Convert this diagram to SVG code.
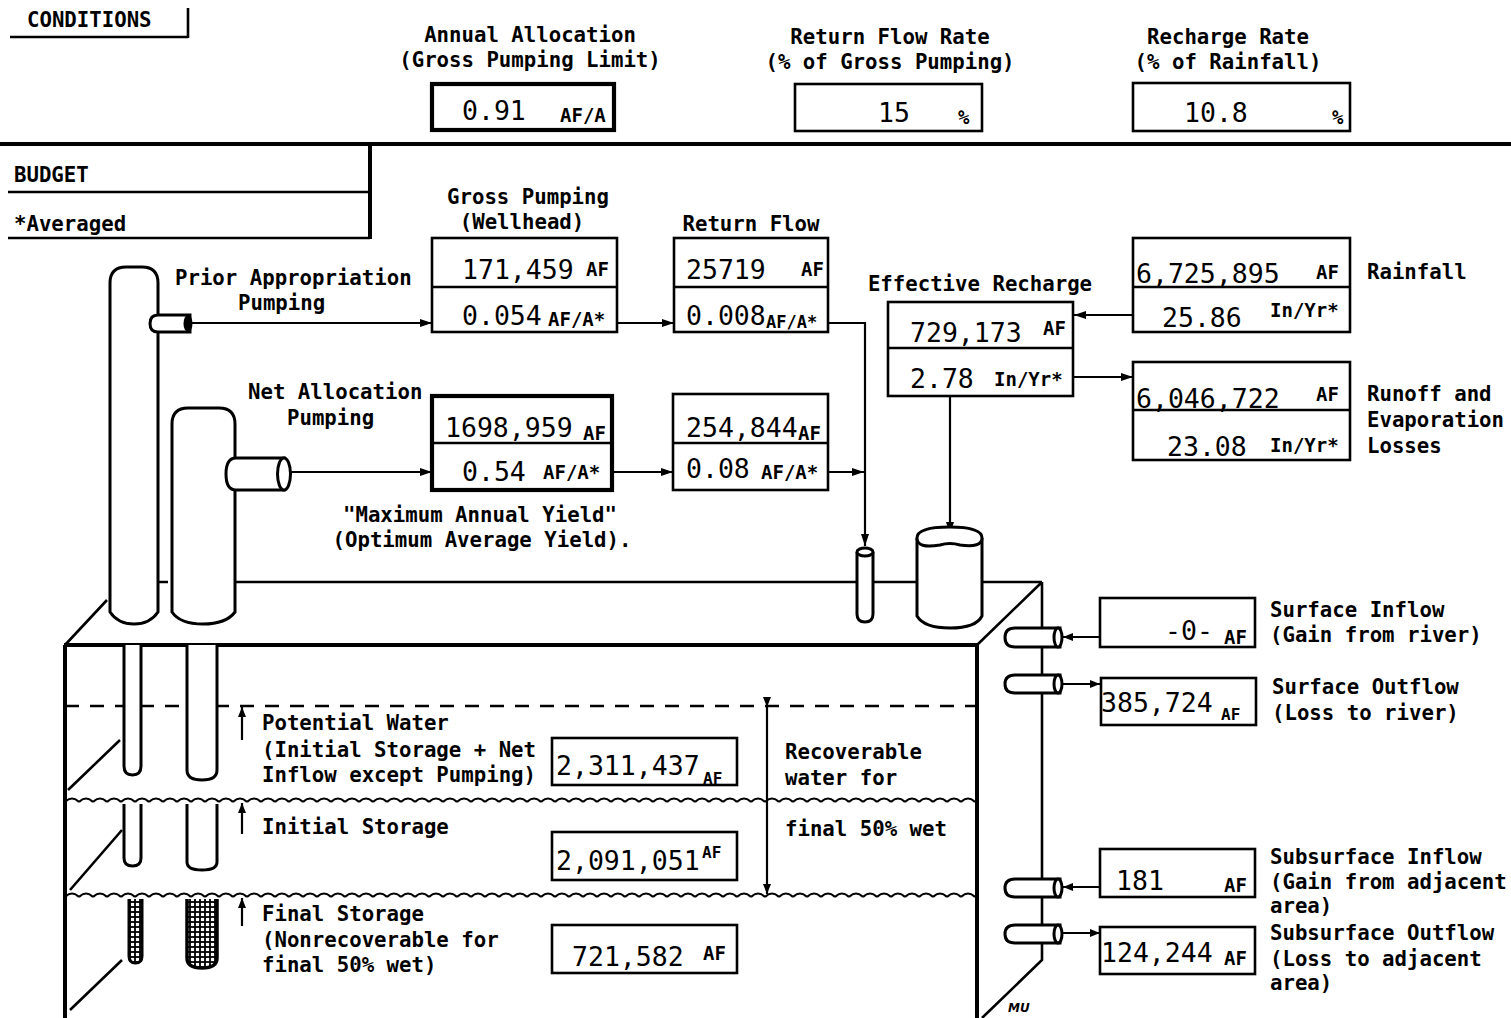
<svg xmlns="http://www.w3.org/2000/svg" width="1511" height="1018" viewBox="0 0 1511 1018">
<style>
.lb{font-family:"DejaVu Sans Mono","Liberation Mono",monospace;font-weight:bold;font-size:20.7px;fill:#000}
.u{font-family:"DejaVu Sans Mono","Liberation Mono",monospace;font-weight:bold;font-size:19px;fill:#000}
.us{font-family:"DejaVu Sans Mono","Liberation Mono",monospace;font-weight:bold;font-size:16px;fill:#000}
.n{font-family:"DejaVu Sans Mono","Liberation Mono",monospace;font-size:26.5px;fill:#000}
.bx{fill:#fff;stroke:#000;stroke-width:2.6}
.bxt{fill:#fff;stroke:#000;stroke-width:4.2}
.ln{fill:none;stroke:#000;stroke-width:2.6}
.th{fill:none;stroke:#000;stroke-width:4}
.w{fill:#fff;stroke:#000;stroke-width:3}
.c{fill:none;stroke:#000;stroke-width:2.2}
</style>
<defs>
<marker id="ah" viewBox="0 0 12 8" refX="12" refY="4" markerWidth="12" markerHeight="8" markerUnits="userSpaceOnUse" orient="auto"><path d="M0,0 L12,4 L0,8 Z" fill="#000"/></marker>
<marker id="as" viewBox="0 0 10 8" refX="10" refY="4" markerWidth="10" markerHeight="8" markerUnits="userSpaceOnUse" orient="auto"><path d="M0,0 L10,4 L0,8 Z" fill="#000"/></marker>
<pattern id="wave" x="65" y="795" width="14" height="10" patternUnits="userSpaceOnUse"><path d="M0,7 Q7,0 14,7" fill="none" stroke="#000" stroke-width="2"/></pattern>
<pattern id="wave2" x="65" y="890" width="14" height="10" patternUnits="userSpaceOnUse"><path d="M0,7 Q7,0 14,7" fill="none" stroke="#000" stroke-width="2"/></pattern>
<pattern id="hatch" x="0" y="897" width="5" height="5" patternUnits="userSpaceOnUse"><rect x="0" y="0" width="5" height="5" fill="#fff" stroke="#000" stroke-width="1.8"/></pattern>
</defs>
<rect x="0" y="0" width="1511" height="1018" fill="#fff"/>

<g id="conditions">
<text class="lb" x="27" y="27">CONDITIONS</text>
<path class="ln" d="M10,37 L188,37 M188,8 L188,38"/>
<path class="th" d="M0,144 L1511,144"/>
</g>

<g id="annual-allocation">
<text class="lb" x="530" y="42" text-anchor="middle">Annual Allocation</text>
<text class="lb" x="530" y="67" text-anchor="middle">(Gross Pumping Limit)</text>
<rect class="bxt" x="432" y="84" width="182" height="46"/>
<text class="n" x="462" y="120">0.91</text>
<text class="u" x="560" y="122">AF/A</text>
</g>

<g id="return-flow-rate">
<text class="lb" x="890" y="44" text-anchor="middle">Return Flow Rate</text>
<text class="lb" x="890" y="69" text-anchor="middle">(% of Gross Pumping)</text>
<rect class="bx" x="795" y="84" width="187" height="47"/>
<text class="n" x="878" y="122">15</text>
<text class="u" x="958" y="124">%</text>
</g>

<g id="recharge-rate">
<text class="lb" x="1228" y="44" text-anchor="middle">Recharge Rate</text>
<text class="lb" x="1228" y="69" text-anchor="middle">(% of Rainfall)</text>
<rect class="bx" x="1133" y="83" width="217" height="48"/>
<text class="n" x="1184" y="122">10.8</text>
<text class="u" x="1332" y="124">%</text>
</g>

<g id="budget">
<path class="ln" d="M8,192 L370,192 M8,238 L370,238"/>
<path class="th" d="M370,144 L370,239"/>
<text class="lb" x="14" y="182">BUDGET</text>
<text class="lb" x="14" y="231">*Averaged</text>
</g>

<g id="connectors">
<line class="c" x1="192" y1="323" x2="432" y2="323" marker-end="url(#ah)"/>
<line class="c" x1="617" y1="323" x2="674" y2="323" marker-end="url(#ah)"/>
<polyline class="c" points="828,323 865,323 865,546" marker-end="url(#ah)"/>
<line class="c" x1="286" y1="472" x2="432" y2="472" marker-end="url(#ah)"/>
<line class="c" x1="612" y1="472" x2="673" y2="472" marker-end="url(#ah)"/>
<line class="c" x1="828" y1="472" x2="864" y2="472" marker-end="url(#ah)"/>
<line class="c" x1="1133" y1="315" x2="1074" y2="315" marker-end="url(#ah)"/>
<line class="c" x1="1073" y1="377" x2="1133" y2="377" marker-end="url(#ah)"/>
<line class="c" x1="950" y1="396" x2="950" y2="534" marker-end="url(#ah)"/>
<line class="c" x1="1100" y1="637" x2="1063" y2="637" marker-end="url(#as)"/>
<line class="c" x1="1063" y1="684" x2="1100" y2="684" marker-end="url(#as)"/>
<line class="c" x1="1100" y1="887" x2="1063" y2="887" marker-end="url(#as)"/>
<line class="c" x1="1063" y1="933" x2="1100" y2="933" marker-end="url(#as)"/>
<line class="c" x1="767" y1="707" x2="767" y2="894" marker-start="url(#as)" marker-end="url(#as)"/>
<line class="c" x1="242" y1="740" x2="242" y2="707" marker-end="url(#as)"/>
<line class="c" x1="242" y1="834" x2="242" y2="803" marker-end="url(#as)"/>
<line class="c" x1="242" y1="926" x2="242" y2="898" marker-end="url(#as)"/>
</g>

<g id="prior-appropriation-label">
<text class="lb" x="175" y="285">Prior Appropriation</text>
<text class="lb" x="238" y="310">Pumping</text>
</g>

<g id="gross-pumping">
<text class="lb" x="528" y="204" text-anchor="middle">Gross Pumping</text>
<text class="lb" x="522" y="229" text-anchor="middle">(Wellhead)</text>
<rect class="bx" x="432" y="238" width="185" height="94"/>
<line class="ln" x1="432" y1="287" x2="617" y2="287"/>
<text class="n" x="462" y="279">171,459</text>
<text class="u" x="586" y="276">AF</text>
<text class="n" x="462" y="325">0.054</text>
<text class="u" x="548" y="326">AF/A*</text>
</g>

<g id="return-flow">
<text class="lb" x="751" y="231" text-anchor="middle">Return Flow</text>
<rect class="bx" x="674" y="238" width="154" height="94"/>
<line class="ln" x1="674" y1="287" x2="828" y2="287"/>
<text class="n" x="686" y="279">25719</text>
<text class="u" x="801" y="276">AF</text>
<text class="n" x="686" y="325">0.008</text>
<text class="u" x="766" y="328" style="font-size:17px">AF/A*</text>
</g>

<g id="net-allocation">
<text class="lb" x="248" y="399">Net Allocation</text>
<text class="lb" x="287" y="425">Pumping</text>
<rect class="bxt" x="432" y="396" width="180" height="94"/>
<line class="ln" x1="432" y1="443" x2="612" y2="443"/>
<text class="n" x="445" y="437">1698,959</text>
<text class="u" x="583" y="440">AF</text>
<text class="n" x="462" y="481">0.54</text>
<text class="u" x="543" y="479">AF/A*</text>
<text class="lb" x="480" y="522" text-anchor="middle">"Maximum Annual Yield"</text>
<text class="lb" x="482" y="547" text-anchor="middle">(Optimum Average Yield).</text>
</g>

<g id="net-return-flow">
<rect class="bx" x="673" y="394" width="155" height="96"/>
<line class="ln" x1="673" y1="443" x2="828" y2="443"/>
<text class="n" x="686" y="437">254,844</text>
<text class="u" x="798" y="440">AF</text>
<text class="n" x="686" y="478">0.08</text>
<text class="u" x="761" y="479">AF/A*</text>
</g>

<g id="effective-recharge">
<text class="lb" x="980" y="291" text-anchor="middle">Effective Recharge</text>
<rect class="bx" x="888" y="302" width="185" height="94"/>
<line class="ln" x1="888" y1="348" x2="1073" y2="348"/>
<text class="n" x="910" y="342">729,173</text>
<text class="u" x="1043" y="335">AF</text>
<text class="n" x="910" y="388">2.78</text>
<text class="u" x="994" y="386">In/Yr*</text>
</g>

<g id="rainfall">
<rect class="bx" x="1133" y="238" width="217" height="94"/>
<line class="ln" x1="1133" y1="287" x2="1350" y2="287"/>
<text class="n" x="1136" y="283">6,725,895</text>
<text class="u" x="1316" y="279">AF</text>
<text class="n" x="1162" y="327">25.86</text>
<text class="u" x="1270" y="317">In/Yr*</text>
<text class="lb" x="1367" y="279">Rainfall</text>
</g>

<g id="runoff">
<rect class="bx" x="1133" y="362" width="217" height="98"/>
<line class="ln" x1="1133" y1="410" x2="1350" y2="410"/>
<text class="n" x="1136" y="408">6,046,722</text>
<text class="u" x="1316" y="401">AF</text>
<text class="n" x="1167" y="456">23.08</text>
<text class="u" x="1270" y="452">In/Yr*</text>
<text class="lb" x="1367" y="401">Runoff and</text>
<text class="lb" x="1367" y="427">Evaporation</text>
<text class="lb" x="1367" y="453">Losses</text>
</g>

<g id="aquifer-block">
<path class="ln" d="M158,582 L168,582 M235,582 L1042,582"/>
<path class="ln" d="M65,645 L107,600 M1042,582 L977,645 M1042,582 L1042,960 L982,1018"/>
<path class="th" d="M64,645 L977,645 M65,645 L65,1018 M977,645 L977,1018"/>
<path class="ln" d="M68,790 L120,740 M70,890 L122,830 M70,1010 L122,960"/>
<line x1="65" y1="706" x2="977" y2="706" stroke="#000" stroke-width="2.6" stroke-dasharray="14 11"/>
<rect x="65" y="795" width="912" height="10" fill="url(#wave)"/>
<rect x="65" y="890" width="912" height="10" fill="url(#wave2)"/>
<text class="lb" x="262" y="730">Potential Water</text>
<text class="lb" x="262" y="757">(Initial Storage + Net</text>
<text class="lb" x="262" y="782">Inflow except Pumping)</text>
<text class="lb" x="262" y="834">Initial Storage</text>
<text class="lb" x="262" y="921">Final Storage</text>
<text class="lb" x="262" y="947">(Nonrecoverable for</text>
<text class="lb" x="262" y="972">final 50% wet)</text>
<text class="lb" x="785" y="759">Recoverable</text>
<text class="lb" x="785" y="785">water for</text>
<text class="lb" x="785" y="836">final 50% wet</text>
<text x="1008" y="1012" style="font-family:'DejaVu Sans',sans-serif;font-weight:bold;font-style:italic;font-size:12px">MU</text>
</g>

<g id="potential-water">
<rect class="bx" x="552" y="738" width="185" height="47"/>
<text class="n" x="556" y="775">2,311,437</text>
<text class="us" x="703" y="784">AF</text>
</g>
<g id="initial-storage">
<rect class="bx" x="552" y="832" width="185" height="48"/>
<text class="n" x="556" y="870">2,091,051</text>
<text class="us" x="702" y="858">AF</text>
</g>
<g id="final-storage">
<rect class="bx" x="552" y="925" width="185" height="48"/>
<text class="n" x="572" y="966">721,582</text>
<text class="u" x="703" y="960">AF</text>
</g>

<g id="prior-well">
<path class="w" d="M110,283 Q110,267 126,267 L142,267 Q158,267 158,283 L158,612 Q150,624 134,624 Q118,624 110,612 Z"/>
<path class="w" d="M190,315 L158,315 Q150,315 150,323.5 Q150,332 158,332 L190,332 Z"/>
<ellipse cx="188" cy="323.5" rx="4.5" ry="8.5" fill="#000"/>
<path class="w" d="M124,645 L124,766 Q124,775 132.5,775 Q141,775 141,766 L141,645"/>
<path class="w" d="M124,804 L124,858 Q124,866 132.5,866 Q141,866 141,858 L141,804"/>
<path d="M129,899 L129,956 Q129,963 135.5,963 Q142,963 142,956 L142,899" fill="url(#hatch)" stroke="#000" stroke-width="3"/>
</g>

<g id="net-well">
<path class="w" d="M172,424 Q172,408 188,408 L219,408 Q235,408 235,424 L235,612 Q226,624 203,624 Q180,624 172,612 Z"/>
<path class="w" d="M284,458 L236,458 Q226,458 226,474 Q226,490 236,490 L284,490 Z"/>
<ellipse class="w" cx="284" cy="474" rx="6.5" ry="16"/>
<path class="w" d="M187,645 L187,770 Q187,780 202,780 Q217,780 217,770 L217,645"/>
<path class="w" d="M187,804 L187,862 Q187,870 202,870 Q217,870 217,862 L217,804"/>
<path d="M187,899 L187,958 Q187,968 202,968 Q217,968 217,958 L217,899" fill="url(#hatch)" stroke="#000" stroke-width="3.5"/>
</g>

<g id="return-tube">
<path class="w" d="M857,552 L857,614 Q857,622 865,622 Q873,622 873,614 L873,552"/>
<ellipse class="w" cx="865" cy="552" rx="8" ry="4"/>
</g>

<g id="recharge-cylinder">
<path class="w" d="M917,538 L917,616 Q924,628 950,628 Q976,628 982,616 L982,538"/>
<path class="w" d="M917,538 Q917,527 949.5,527 Q982,527 982,538 Q982,548 960,545 Q950,542 940,545 Q917,549 917,538 Z"/>
</g>

<g id="surface-inflow">
<path class="w" d="M1060,628 L1015,628 Q1005,628 1005,637.5 Q1005,647 1015,647 L1060,647 Z"/>
<ellipse class="w" cx="1058" cy="637.5" rx="4" ry="9.5"/>
<rect class="bx" x="1100" y="598" width="155" height="49"/>
<text class="n" x="1165" y="640">-0-</text>
<text class="u" x="1224" y="644">AF</text>
<text class="lb" x="1270" y="617">Surface Inflow</text>
<text class="lb" x="1270" y="642">(Gain from river)</text>
</g>

<g id="surface-outflow">
<path class="w" d="M1060,675 L1015,675 Q1005,675 1005,684 Q1005,693 1015,693 L1060,693 Z"/>
<ellipse class="w" cx="1058" cy="684" rx="4" ry="9"/>
<rect class="bx" x="1101" y="678" width="155" height="47"/>
<text class="n" x="1101" y="712">385,724</text>
<text class="us" x="1221" y="720">AF</text>
<text class="lb" x="1272" y="694">Surface Outflow</text>
<text class="lb" x="1272" y="720">(Loss to river)</text>
</g>

<g id="subsurface-inflow">
<path class="w" d="M1060,879 L1015,879 Q1005,879 1005,888 Q1005,897 1015,897 L1060,897 Z"/>
<ellipse class="w" cx="1058" cy="888" rx="4" ry="9"/>
<rect class="bx" x="1100" y="849" width="155" height="48"/>
<text class="n" x="1116" y="890">181</text>
<text class="u" x="1224" y="892">AF</text>
<text class="lb" x="1270" y="864">Subsurface Inflow</text>
<text class="lb" x="1270" y="889">(Gain from adjacent</text>
<text class="lb" x="1270" y="913">area)</text>
</g>

<g id="subsurface-outflow">
<path class="w" d="M1060,925 L1015,925 Q1005,925 1005,934 Q1005,943 1015,943 L1060,943 Z"/>
<ellipse class="w" cx="1058" cy="934" rx="4" ry="9"/>
<rect class="bx" x="1100" y="927" width="155" height="47"/>
<text class="n" x="1101" y="962">124,244</text>
<text class="u" x="1224" y="965">AF</text>
<text class="lb" x="1270" y="940">Subsurface Outflow</text>
<text class="lb" x="1270" y="966">(Loss to adjacent</text>
<text class="lb" x="1270" y="990">area)</text>
</g>
</svg>
